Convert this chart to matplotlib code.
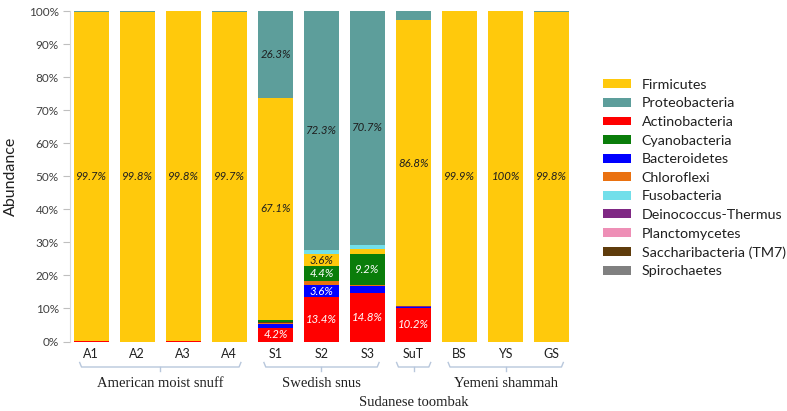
import matplotlib
matplotlib.use("Agg")
import matplotlib.pyplot as plt
import numpy as np
from matplotlib.patches import Patch
from matplotlib.ticker import FuncFormatter

samples = ["A1", "A2", "A3", "A4", "S1", "S2", "S3", "SuT", "BS", "YS", "GS"]

# relative abundance (%) per phylum, one value per sample
firmicutes = [99.7, 99.8, 99.8, 99.7, 67.1, 3.6, 1.7, 86.8, 99.9, 100, 99.8]
proteobacteria = [0.2, 0.2, 0.1, 0.3, 26.3, 72.3, 70.7, 2.6, 0.1, 0, 0.2]
actinobacteria = [0.1, 0, 0.1, 0, 4.2, 13.4, 14.8, 10.2, 0, 0, 0]
cyanobacteria = [0, 0, 0, 0, 0.8, 4.4, 9.2, 0, 0, 0, 0]
bacteroidetes = [0, 0, 0, 0, 1.0, 3.6, 1.9, 0.2, 0, 0, 0]
chloroflexi = [0, 0, 0, 0, 0.2, 1.4, 0.5, 0, 0, 0, 0]
fusobacteria = [0, 0, 0, 0, 0, 1.3, 1.2, 0, 0, 0, 0]
deinococcus = [0, 0, 0, 0, 0.2, 0, 0, 0.2, 0, 0, 0]
planctomycetes = [0] * 11
saccharibacteria = [0, 0, 0, 0, 0.2, 0, 0, 0, 0, 0, 0]
spirochaetes = [0] * 11

groups = [("American moist snuff", 0, 3), ("Swedish snus", 4, 6),
          ("Sudanese toombak", 7, 7), ("Yemeni shammah", 8, 10)]

# legend order
legend_order = ["Firmicutes", "Proteobacteria", "Actinobacteria", "Cyanobacteria",
                "Bacteroidetes", "Chloroflexi", "Fusobacteria", "Deinococcus-Thermus",
                "Planctomycetes", "Saccharibacteria (TM7)", "Spirochaetes"]
values = {
    "Firmicutes": firmicutes, "Proteobacteria": proteobacteria,
    "Actinobacteria": actinobacteria, "Cyanobacteria": cyanobacteria,
    "Bacteroidetes": bacteroidetes, "Chloroflexi": chloroflexi,
    "Fusobacteria": fusobacteria, "Deinococcus-Thermus": deinococcus,
    "Planctomycetes": planctomycetes, "Saccharibacteria (TM7)": saccharibacteria,
    "Spirochaetes": spirochaetes,
}
colors = {
    "Firmicutes": "#ffc90c", "Proteobacteria": "#5d9e9b",
    "Actinobacteria": "#ff0000", "Cyanobacteria": "#0a7d0a",
    "Bacteroidetes": "#0000ff", "Chloroflexi": "#ea7110",
    "Fusobacteria": "#72dfea", "Deinococcus-Thermus": "#7f2884",
    "Planctomycetes": "#ee8fb6", "Saccharibacteria (TM7)": "#5f3c0c",
    "Spirochaetes": "#808080",
}
# stacking order, bottom to top
stack_order = ["Actinobacteria", "Bacteroidetes", "Deinococcus-Thermus", "Chloroflexi",
               "Saccharibacteria (TM7)", "Cyanobacteria", "Firmicutes", "Fusobacteria",
               "Planctomycetes", "Spirochaetes", "Proteobacteria"]
light_text = {"Actinobacteria", "Cyanobacteria", "Bacteroidetes"}

plt.rcParams["font.family"] = ["Lato", "DejaVu Sans"]

fig = plt.figure(figsize=(7.87, 4.11), dpi=100)
ax = fig.add_axes([70 / 787, 69.5 / 411, 503 / 787, 330.5 / 411])

x = np.arange(len(samples))
bottom = np.zeros(len(samples))
for name in stack_order:
    v = np.array(values[name], dtype=float)
    ax.bar(x, v, bottom=bottom, width=0.76, color=colors[name], linewidth=0)
    for i, val in enumerate(v):
        if val >= 3:
            ax.text(i, bottom[i] + val / 2, f"{val:g}%", ha="center", va="center",
                    fontsize=8.2, style="italic",
                    color="white" if name in light_text else "#1e1e1e")
    bottom += v

ax.set_xlim(-0.46, len(samples) - 0.54)
ax.set_ylim(0, 100)
ax.set_yticks(np.arange(0, 101, 10))
ax.yaxis.set_major_formatter(FuncFormatter(lambda v, p: f"{v:.0f}%"))
ax.set_xticks(x)
ax.set_xticklabels(samples)
ax.tick_params(axis="y", length=5, width=0.8, color="#bfbfbf", labelsize=8.5,
               labelcolor="#404040", pad=3)
ax.tick_params(axis="x", length=0, labelsize=9, labelcolor="#202020", pad=5)
for s in ["top", "right", "bottom"]:
    ax.spines[s].set_visible(False)
ax.spines["left"].set_color("#d9d9d9")
ax.spines["left"].set_linewidth(0.8)
ax.set_ylabel("Abundance", fontsize=11.5, color="#202020", labelpad=8)

# group brackets under the sample labels
ax_h = 330.5
tr = ax.get_xaxis_transform()
y_line = -(367 - 341.5) / ax_h
y_end = -(362.5 - 341.5) / ax_h
y_mid = -(371 - 341.5) / ax_h
for label, i0, i1 in groups:
    pad = 0.25 if i1 > i0 else 0.37
    xa, xb = i0 - pad, i1 + pad
    xm = (xa + xb) / 2
    ax.plot([xa, xa + 0.04, xb - 0.04, xb], [y_end, y_line, y_line, y_end],
            transform=tr, clip_on=False, color="#b8c7dc", lw=1)
    ax.plot([xm, xm], [y_line, y_mid], transform=tr, clip_on=False,
            color="#b8c7dc", lw=1)
    ly = -(402 - 341.5) / ax_h if i0 == i1 else -(383 - 341.5) / ax_h
    ax.text(xm, ly, label, transform=tr, ha="center", va="center",
            fontsize=10.5, family="Liberation Serif", color="#202020")

handles = [Patch(facecolor=colors[n], edgecolor="none") for n in legend_order]
fig.legend(handles, legend_order, loc="upper left",
           bbox_to_anchor=(590 / 787, 1 - 66 / 411), frameon=False,
           fontsize=10.3, handlelength=1.95, handleheight=0.58, handletextpad=0.75,
           labelspacing=0.46, labelcolor="#202020")

fig.savefig("out.png", dpi=100, facecolor="white")
